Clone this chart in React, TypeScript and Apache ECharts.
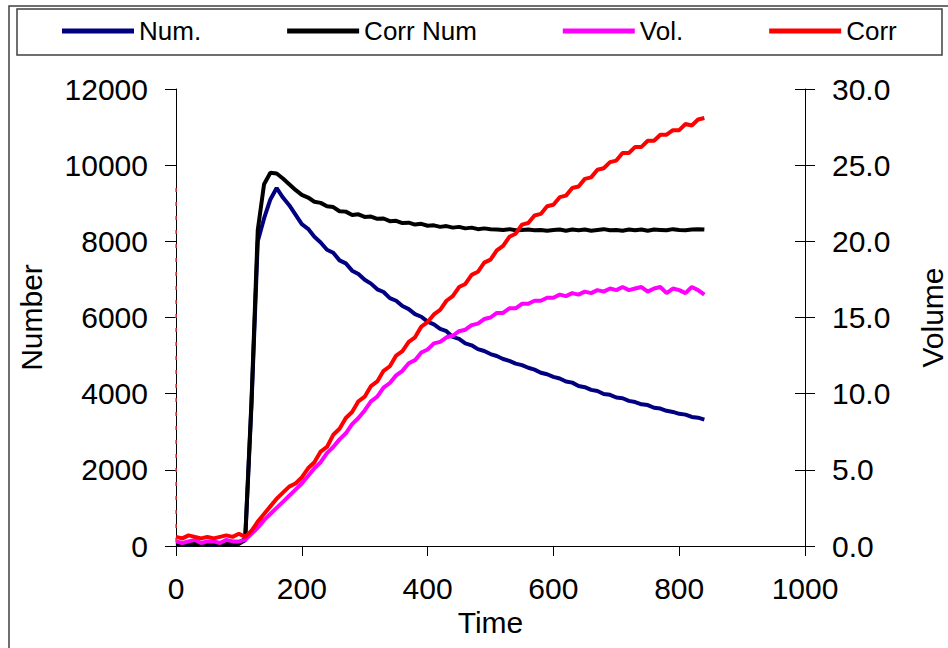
import React, { useEffect, useRef } from "react";
import * as echarts from "echarts";

const times = [
  0, 10, 20, 30, 40, 50, 60, 70, 80, 90, 100,
  110, 120, 130, 140, 150, 160, 170, 180, 190, 200,
  210, 220, 230, 240, 250, 260, 270, 280, 290, 300,
  310, 320, 330, 340, 350, 360, 370, 380, 390, 400,
  410, 420, 430, 440, 450, 460, 470, 480, 490, 500,
  510, 520, 530, 540, 550, 560, 570, 580, 590, 600,
  610, 620, 630, 640, 650, 660, 670, 680, 690, 700,
  710, 720, 730, 740, 750, 760, 770, 780, 790, 800,
  810, 820, 830, 840,
];

const numValues = [
  40, 60, 30, 50, 70, 40, 30, 60, 50, 40, 60,
  150, 3700, 8000, 8600, 9100, 9400, 9150, 8950, 8700, 8450,
  8330, 8120, 7970, 7780, 7700, 7500, 7420, 7230, 7140, 6990,
  6890, 6740, 6670, 6510, 6440, 6300, 6220, 6090, 6020, 5890,
  5820, 5700, 5640, 5490, 5440, 5320, 5270, 5170, 5120, 5040,
  4990, 4910, 4860, 4790, 4750, 4680, 4630, 4550, 4510, 4440,
  4400, 4320, 4290, 4200, 4170, 4100, 4070, 3990, 3970, 3900,
  3880, 3810, 3780, 3720, 3700, 3630, 3610, 3550, 3520, 3470,
  3450, 3390, 3370, 3320,
];

const corrNumValues = [
  60, 40, 70, 50, 30, 60, 80, 40, 50, 70, 60,
  200, 3800, 8300, 9500, 9800, 9780, 9650, 9500, 9350, 9220,
  9150, 9040, 9010, 8920, 8900, 8790, 8780, 8690, 8710, 8640,
  8650, 8590, 8600, 8530, 8540, 8480, 8490, 8440, 8460, 8410,
  8420, 8380, 8400, 8360, 8380, 8340, 8360, 8320, 8340, 8320,
  8310, 8300, 8320, 8290, 8300, 8310, 8290, 8300, 8280, 8300,
  8310, 8280, 8310, 8290, 8310, 8280, 8300, 8320, 8290, 8300,
  8280, 8310, 8290, 8310, 8280, 8310, 8300, 8290, 8320, 8300,
  8290, 8310, 8320, 8310,
];

const volValues = [
  0.3, 0.2, 0.3, 0.4, 0.2, 0.3, 0.3, 0.2, 0.4, 0.3, 0.3,
  0.4, 0.8, 1.2, 1.7, 2.1, 2.5, 2.9, 3.3, 3.7, 4.1,
  4.6, 5.1, 5.5, 6.1, 6.5, 7.0, 7.4, 8.0, 8.4, 8.9,
  9.5, 9.8, 10.4, 10.7, 11.2, 11.5, 12.0, 12.2, 12.7, 12.9,
  13.3, 13.4, 13.7, 13.8, 14.1, 14.2, 14.5, 14.6, 14.9, 15.0,
  15.3, 15.3, 15.6, 15.6, 15.9, 15.9, 16.1, 16.1, 16.3, 16.3,
  16.5, 16.4, 16.6, 16.5, 16.7, 16.6, 16.8, 16.7, 16.9, 16.8,
  17.0, 16.8, 16.9, 17.0, 16.7, 16.9, 17.0, 16.6, 16.9, 16.8,
  16.6, 17.0, 16.8, 16.5,
];

const corrValues = [
  0.6, 0.5, 0.7, 0.6, 0.5, 0.6, 0.5, 0.6, 0.7, 0.6, 0.8,
  0.6, 1.0, 1.6, 2.1, 2.6, 3.1, 3.5, 3.9, 4.1, 4.5,
  5.1, 5.5, 6.2, 6.5, 7.3, 7.7, 8.4, 8.8, 9.5, 9.8,
  10.5, 10.8, 11.5, 11.8, 12.5, 12.8, 13.4, 13.7, 14.4, 14.7,
  15.2, 15.5, 16.1, 16.4, 17.0, 17.2, 17.8, 18.0, 18.6, 18.8,
  19.4, 19.7, 20.3, 20.5, 21.1, 21.2, 21.7, 21.8, 22.3, 22.4,
  22.9, 23.0, 23.5, 23.6, 24.1, 24.2, 24.7, 24.8, 25.2, 25.3,
  25.8, 25.8, 26.2, 26.2, 26.6, 26.6, 27.0, 27.0, 27.3, 27.3,
  27.7, 27.6, 28.0, 28.1,
];

// faint red dashed trace along the left axis
const edgeTrace = [
  [0, 9400],
  [0, 0],
];

const legendNames = ["Num.", "Corr Num", "Vol.", "Corr"];
const xTicks = { min: 0, max: 1000, interval: 200 };
const leftTicks = { min: 0, max: 12000, interval: 2000 };
const rightTicks = { min: 0, max: 30, interval: 5 };

const FONT = "Liberation Sans, Arial, sans-serif";

export default function App() {
  const ref = useRef<HTMLDivElement>(null);
  useEffect(() => {
    document.body.style.margin = "0";
    if (!ref.current) return;
    const chart = echarts.init(ref.current, null, { renderer: "svg" });
    const pair = (vals: number[]) => times.map((t, i) => [t, vals[i]]);
    const labelStyle = { fontSize: 30, color: "#000", fontFamily: FONT };
    chart.setOption({
      animation: false,
      backgroundColor: "#fff",
      textStyle: { fontFamily: FONT },
      grid: {
        left: 176,
        right: 143,
        top: 89,
        bottom: 102,
        containLabel: false,
        outerBoundsMode: "none",
      },
      legend: {
        data: legendNames,
        left: 62,
        top: 16,
        padding: 0,
        itemGap: 86,
        itemWidth: 72,
        itemHeight: 14,
        icon: "path://M0,5 L72,5 L72,10 L0,10 Z",
        textStyle: { fontSize: 26, color: "#000", fontFamily: FONT, lineHeight: 30 },
      },
      xAxis: {
        type: "value",
        ...xTicks,
        axisLine: { show: true, onZero: false, lineStyle: { color: "#000", width: 1 } },
        axisTick: { show: true, length: 10, lineStyle: { color: "#000" } },
        axisLabel: { ...labelStyle, margin: 27, formatter: (v: number) => String(v) },
        splitLine: { show: false },
        name: "Time",
        nameLocation: "middle",
        nameGap: 59,
        nameTextStyle: labelStyle,
      },
      yAxis: [
        {
          type: "value",
          ...leftTicks,
          position: "left",
          axisLine: { show: true, lineStyle: { color: "#000", width: 1 } },
          axisTick: { show: true, length: 11, lineStyle: { color: "#000" } },
          axisLabel: { ...labelStyle, margin: 28, formatter: (v: number) => String(v) },
          splitLine: { show: false },
          name: "Number",
          nameLocation: "middle",
          nameGap: 130,
          nameTextStyle: labelStyle,
        },
        {
          type: "value",
          ...rightTicks,
          position: "right",
          axisLine: { show: true, lineStyle: { color: "#000", width: 1 } },
          axisTick: { show: true, length: 10, lineStyle: { color: "#000" } },
          axisLabel: {
            ...labelStyle,
            margin: 27,
            formatter: (v: number) => v.toFixed(1),
          },
          splitLine: { show: false },
          name: "Volume",
          nameLocation: "middle",
          nameGap: 112,
          nameTextStyle: labelStyle,
        },
        {
          type: "value",
          ...rightTicks,
          position: "right",
          axisLine: { show: false },
          axisTick: { show: true, inside: true, length: 10, lineStyle: { color: "#000" } },
          axisLabel: { show: false },
          splitLine: { show: false },
        },
      ],
      series: [
        {
          name: "Num.",
          type: "line",
          yAxisIndex: 0,
          data: pair(numValues),
          symbol: "none",
          lineStyle: { color: "#000080", width: 4 },
          itemStyle: { color: "#000080" },
        },
        {
          name: "Corr Num",
          type: "line",
          yAxisIndex: 0,
          data: pair(corrNumValues),
          symbol: "none",
          lineStyle: { color: "#000000", width: 4 },
          itemStyle: { color: "#000000" },
        },
        {
          name: "Vol.",
          type: "line",
          yAxisIndex: 1,
          data: pair(volValues),
          symbol: "none",
          lineStyle: { color: "#ff00ff", width: 4 },
          itemStyle: { color: "#ff00ff" },
        },
        {
          name: "Corr",
          type: "line",
          yAxisIndex: 1,
          data: pair(corrValues),
          symbol: "none",
          lineStyle: { color: "#ff0000", width: 4 },
          itemStyle: { color: "#ff0000" },
        },
        {
          name: "edge",
          type: "line",
          yAxisIndex: 0,
          data: edgeTrace,
          symbol: "none",
          silent: true,
          lineStyle: { color: "#ff4040", width: 1.5, type: [4, 10] },
        },
      ],
      graphic: [
        {
          type: "rect",
          shape: { x: 9, y: 6, width: 980, height: 700 },
          style: { fill: "none", stroke: "#404040", lineWidth: 1.5 },
          silent: true,
        },
        {
          type: "rect",
          shape: { x: 17, y: 9, width: 925, height: 46 },
          style: { fill: "none", stroke: "#404040", lineWidth: 1.5 },
          silent: true,
        },
      ],
    });
    return () => chart.dispose();
  }, []);
  return <div ref={ref} style={{ width: 948, height: 648 }} />;
}
